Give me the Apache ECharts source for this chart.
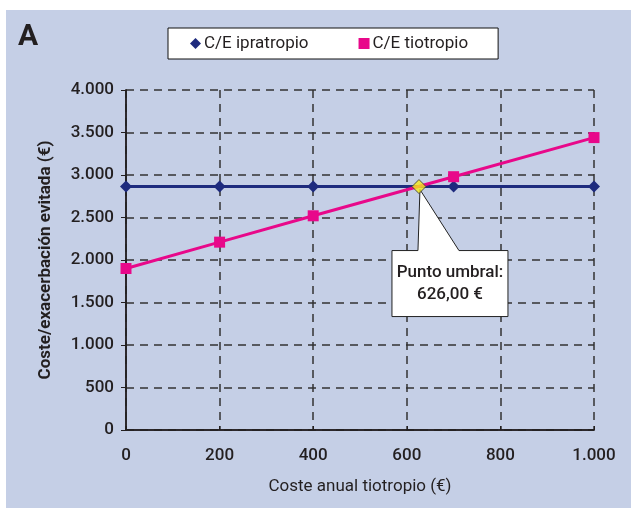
<!DOCTYPE html>
<html>
<head>
<meta charset="utf-8">
<script src="https://cdn.jsdelivr.net/npm/echarts@6/dist/echarts.min.js"></script>
<style>
  html, body { margin: 0; padding: 0; background: #ffffff; }
  #panel { position: absolute; left: 6px; top: 10px; width: 625px; height: 498px; background: #c5cfe6; }
  #chart { position: absolute; left: 0; top: 0; width: 631px; height: 510px; }
</style>
</head>
<body>
<div id="panel"></div>
<div id="chart"></div>
<script>
// Coste anual de tiotropio (€) en el eje X
const costeAnual = [0, 200, 400, 700, 1000];
// Coste por exacerbación evitada (€)
const ceIpratropio = [2864, 2864, 2864, 2864, 2864];
const ceTiotropio = [1900, 2210, 2520, 2980, 3440];
// Punto umbral: coste anual y C/E en el cruce
const puntoUmbral = [626, 2864];
const etiquetaUmbral = ['Punto umbral:', '626,00 €'];

const FONT = "Roboto, 'Noto Sans', sans-serif";
const INK = '#231f20';
const NAVY = '#1e2b7e';
const PINK = '#e8088a';

const fmt = v => {
  const s = String(Math.round(v));
  return s.replace(/\B(?=(\d{3})+(?!\d))/g, '.');
};

const chart = echarts.init(document.getElementById('chart'), null, { renderer: 'canvas' });

const gridDash = { show: true, lineStyle: { color: '#333', width: 1.5, type: [8, 6] } };
const labelStyle = { fontFamily: FONT, fontSize: 17, fontWeight: 500, color: INK };

const option = {
  backgroundColor: 'transparent',
  animation: false,
  textStyle: { fontFamily: FONT, color: INK },
  grid: { left: 126, right: 37, top: 90, bottom: 80 },
  legend: {
    left: 168, top: 28, width: 330, height: 30,
    backgroundColor: '#ffffff', borderColor: '#111', borderWidth: 1,
    padding: [7, 30, 7, 22], itemGap: 50,
    itemWidth: 11, itemHeight: 11,
    textStyle: { fontFamily: FONT, fontSize: 17, color: INK, padding: [0, 0, 0, -2] },
    data: [
      { name: 'C/E ipratropio', icon: 'diamond', itemStyle: { color: NAVY } },
      { name: 'C/E tiotropio', icon: 'rect', itemStyle: { color: PINK } }
    ]
  },
  xAxis: [{
    type: 'value', min: 0, max: 1000, interval: 200,
    name: 'Coste anual tiotropio (€)', nameLocation: 'middle', nameGap: 48,
    nameTextStyle: { fontFamily: FONT, fontSize: 17, color: INK },
    axisLine: { show: true, onZero: false, lineStyle: { color: INK, width: 1.5 } },
    axisTick: { show: true, inside: true, length: 4, lineStyle: { color: INK } },
    axisLabel: Object.assign({ margin: 17, formatter: fmt }, labelStyle),
    splitLine: gridDash
  }, {
    type: 'value', min: 0, max: 1000, interval: 200, position: 'top',
    axisLine: { show: true, lineStyle: { color: INK, width: 1.5 } },
    axisTick: { show: false }, axisLabel: { show: false }, splitLine: { show: false }
  }],
  yAxis: [{
    type: 'value', min: 0, max: 4000, interval: 500,
    name: 'Coste/exacerbación evitada (€)', nameLocation: 'middle', nameGap: 72,
    nameTextStyle: { fontFamily: FONT, fontSize: 17, fontWeight: 'bold', color: INK },
    axisLine: { show: true, lineStyle: { color: INK, width: 1.5 } },
    axisTick: { show: true, length: 5, lineStyle: { color: INK } },
    axisLabel: Object.assign({ margin: 12, formatter: fmt }, labelStyle),
    splitLine: gridDash
  }, {
    type: 'value', min: 0, max: 4000, interval: 500, position: 'right',
    axisLine: { show: true, lineStyle: { color: INK, width: 1.5 } },
    axisTick: { show: false }, axisLabel: { show: false }, splitLine: { show: false }
  }],
  series: [
    {
      name: 'C/E ipratropio', type: 'line',
      data: costeAnual.map((x, i) => [x, ceIpratropio[i]]),
      symbol: 'diamond', symbolSize: 12, showAllSymbol: true,
      lineStyle: { color: NAVY, width: 3 }, itemStyle: { color: NAVY }, z: 3
    },
    {
      name: 'C/E tiotropio', type: 'line',
      data: costeAnual.map((x, i) => [x, ceTiotropio[i]]),
      symbol: 'rect', symbolSize: 11, showAllSymbol: true,
      lineStyle: { color: PINK, width: 3 }, itemStyle: { color: PINK }, z: 4
    },
    {
      name: 'umbral', type: 'scatter',
      data: [puntoUmbral],
      symbol: 'diamond', symbolSize: 14,
      itemStyle: { color: '#f4ea1a', borderColor: '#333', borderWidth: 1 }, z: 6
    }
  ]
};

chart.setOption(option);

// Callout for the threshold point, anchored at its pixel position
const tip = chart.convertToPixel({ xAxisIndex: 0, yAxisIndex: 0 }, puntoUmbral);
const bx = tip[0] - 27, by = tip[1] + 64, bw = 116, bh = 66;
chart.setOption({
  graphic: [
    {
      type: 'polygon', z: 5,
      shape: {
        points: [
          [bx, by], [bx + 26, by], [tip[0] + 1, tip[1] + 3], [bx + 67, by],
          [bx + bw, by], [bx + bw, by + bh], [bx, by + bh]
        ]
      },
      style: { fill: '#ffffff', stroke: '#222', lineWidth: 1 }
    },
    {
      type: 'text', z: 7,
      x: bx + bw / 2, y: by + bh / 2,
      style: {
        text: etiquetaUmbral.join('\n'),
        font: "500 17px " + FONT, fill: INK,
        textAlign: 'center', textVerticalAlign: 'middle', lineHeight: 22
      }
    },
    {
      type: 'text', z: 7, left: 18, top: 22,
      style: { text: 'A', font: "bold 30px " + FONT, fill: INK }
    }
  ]
});
</script>
</body>
</html>
